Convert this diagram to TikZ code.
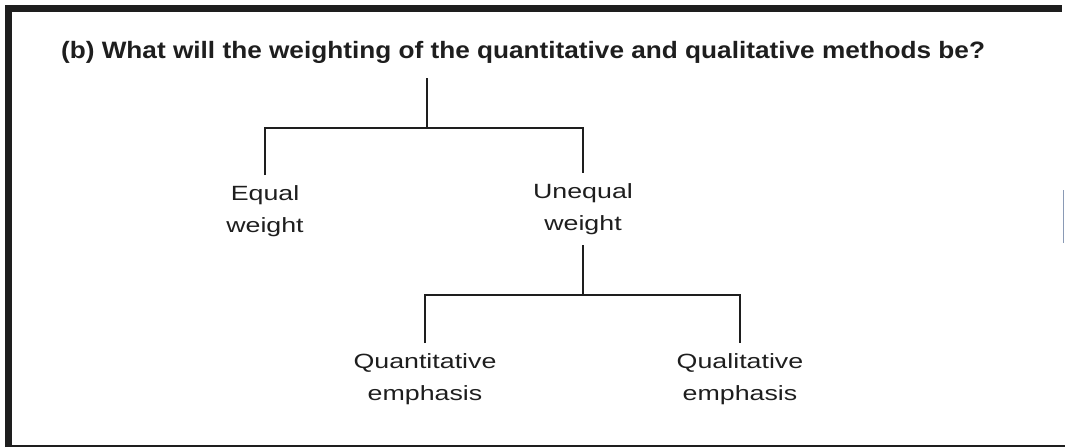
\documentclass[tikz,border=0pt]{standalone}
\usepackage{fontspec}
\usepackage{tikz}
\usepackage{xcolor}
\usetikzlibrary{positioning,calc}
\newfontfamily\titlefont{Liberation Sans}[FakeStretch=1.105]
\newfontfamily\bodyfont{Liberation Sans}[FakeStretch=1.3]
\definecolor{ink}{HTML}{1E1E1E}
\definecolor{edgeblue}{HTML}{8A9AB5}

\begin{document}
\begin{tikzpicture}[x=0.5pt,y=-0.5pt,
    branch/.style={draw=ink,line width=0.9pt},
    leaf/.style={font={\bodyfont\fontsize{10.3pt}{16pt}\selectfont},text=ink,
      align=center,anchor=north,inner xsep=0pt,inner ysep=5pt}]
  \useasboundingbox (0,0) rectangle (1065,447);
  % frame, ragged as scanned
  \draw[ink,line width=3.5pt] (8.5,447) -- (8.5,8.5) -- (1062,8.5);
  \draw[ink,line width=1pt] (5,445.5) -- (1065,445.5);
  \draw[edgeblue,line width=0.6pt] (1063.5,190) -- (1063.5,243);
  % question
  \node[font={\titlefont\bfseries\fontsize{11.85pt}{14pt}\selectfont},text=ink,
    anchor=base,inner sep=0pt] (quest) at (523,58)
    {(b) What will the weighting of the quantitative and qualitative methods be?};
  % first split
  \coordinate (top) at (427,78);
  \coordinate (fork) at (427,128);
  \node[leaf] (equal) at (265,175) {Equal\\weight};
  \node[leaf] (unequal) at (583,173) {Unequal\\weight};
  \draw[branch] (top) -- (fork);
  \draw[branch] (equal.north) -- (equal.north |- fork) -- (unequal.north |- fork) -- (unequal.north);
  % second split
  \coordinate (subfork) at (583,295);
  \node[leaf] (quant) at (425,343) {Quantitative\\emphasis};
  \node[leaf] (qual) at (740,343) {Qualitative\\emphasis};
  \draw[branch] (unequal.south) -- (subfork);
  \draw[branch] (quant.north) -- (quant.north |- subfork) -- (qual.north |- subfork) -- (qual.north);
\end{tikzpicture}
\end{document}
